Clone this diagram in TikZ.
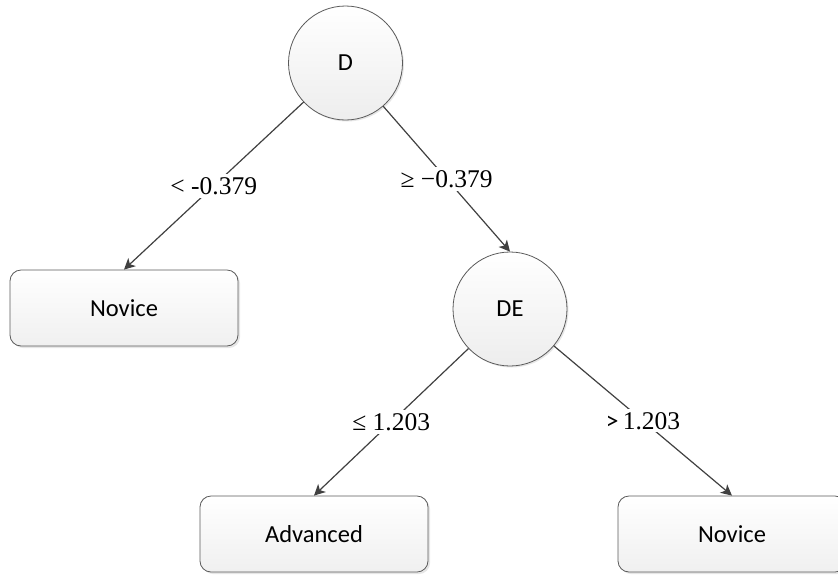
\documentclass[tikz,border=0pt]{standalone}
\usepackage{fontspec}
\setmainfont{Liberation Serif}
\newfontfamily\boxfont{Carlito}
\usetikzlibrary{arrows.meta,shadows}
\definecolor{edgegray}{HTML}{404040}
\definecolor{rimgray}{HTML}{5A5A5A}
\begin{document}
\begin{tikzpicture}[x=1pt,y=-1pt,
  decision/.style={circle,draw=rimgray,line width=0.8pt,minimum size=114pt,inner sep=0pt,
    top color=white,bottom color=gray!14,font=\boxfont\fontsize{24.5}{28}\selectfont,
    drop shadow={shadow xshift=1.5pt,shadow yshift=-1.5pt,opacity=0.2}},
  leaf/.style={rectangle,rounded corners=11pt,draw=rimgray,line width=0.8pt,
    minimum width=228pt,minimum height=76pt,inner sep=0pt,
    top color=white,bottom color=gray!12,font=\boxfont\fontsize{24.5}{28}\selectfont,
    drop shadow={shadow xshift=2pt,shadow yshift=-2pt,opacity=0.2}},
  branch/.style={draw=edgegray,line width=1.2pt,-{Stealth[length=11pt,width=11pt,inset=3pt]}},
  cond/.style={fill=white,inner sep=3pt,font=\fontsize{25.5}{29}\selectfont,text=black}]
  \useasboundingbox (0,0) rectangle (838,574);

  % split nodes
  \node[decision] (d)  at (345.5,63) {D};
  \node[decision] (de) at (510,309) {DE};

  % class leaves
  \node[leaf] (novA) at (124,308) {Novice};
  \node[leaf] (adv)  at (314,534) {Advanced};
  \node[leaf] (novB) at (732,534) {Novice};

  % branches with their thresholds
  \draw[branch] (d) -- node[cond] {< -0.379} (novA.north);
  \draw[branch] (d) -- node[cond] {≥ −0.379} (de.north);
  \draw[branch] (de) -- node[cond] {≤ 1.203} (adv.north);
  \draw[branch] (de) -- node[cond] {{\boxfont >}\,1.203} (novB.north);
\end{tikzpicture}
\end{document}
